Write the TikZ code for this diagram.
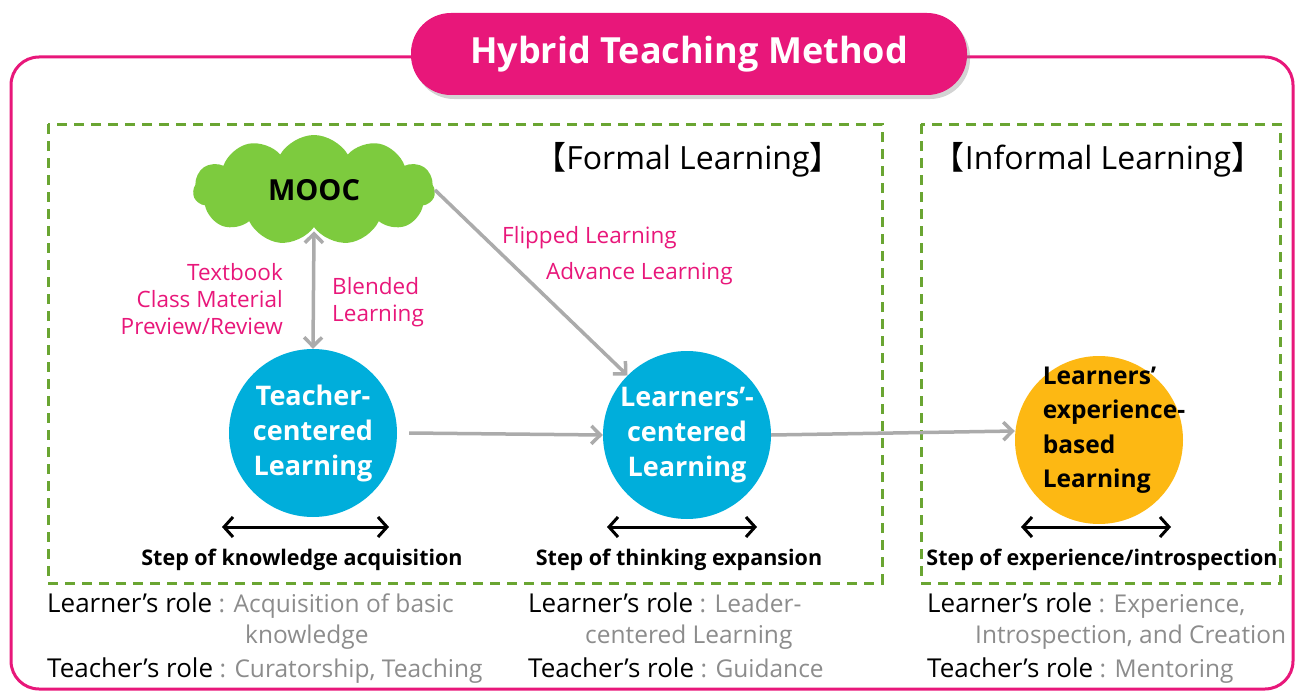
\documentclass[tikz,border=0pt]{standalone}
\usepackage{fontspec}
\setmainfont{Open Sans}
\newfontfamily\cjkfont{Noto Sans CJK KR}
\usetikzlibrary{shapes.symbols,arrows.meta,shadows}
\definecolor{hpink}{HTML}{E8177A}
\definecolor{hgreen}{HTML}{6AA532}
\definecolor{cloudgreen}{HTML}{7DCB3E}
\definecolor{hblue}{HTML}{00AEDB}
\definecolor{horange}{HTML}{FDB813}
\definecolor{hgray}{HTML}{ABABAB}
\definecolor{rolegray}{HTML}{8C8C8C}
\newcommand\rolegraytext[1]{{\color{rolegray}\fontsize{24.5}{30}\selectfont #1}}
\newcommand\lbrk{{\cjkfont 【}}
\newcommand\rbrk{{\cjkfont 】}}
\tikzset{
  dashbox/.style={draw=hgreen,line width=3pt,dash pattern=on 10pt off 7pt},
  circ/.style={circle,minimum size=168pt,inner sep=0pt,align=center,font=\fontsize{27}{35}\selectfont\bfseries},
  grayarrow/.style={draw=hgray,line width=3.5pt,-{Straight Barb[length=9pt,width=18pt]}},
  grayboth/.style={draw=hgray,line width=3.5pt,{Straight Barb[length=9pt,width=18pt]}-{Straight Barb[length=9pt,width=18pt]}},
  blackboth/.style={draw=black,line width=3pt,{Straight Barb[length=9pt,width=20pt]}-{Straight Barb[length=9pt,width=20pt]}},
  pinklabel/.style={text=hpink,font=\fontsize{22.5}{27}\selectfont,inner sep=0pt},
  steplabel/.style={font=\fontsize{21.5}{24}\selectfont\bfseries,inner sep=0pt},
  rolelabel/.style={anchor=base west,inner sep=0pt,font=\fontsize{26}{30}\selectfont},
  roletext/.style={text=rolegray,font=\fontsize{24.5}{30}\selectfont},
  sechead/.style={font=\fontsize{32}{36}\selectfont,inner sep=0pt}
}
\begin{document}
\begin{tikzpicture}[x=1pt,y=-1pt]
\useasboundingbox (0,0) rectangle (1299,693);
% outer frame
\draw[hpink,line width=3pt,rounded corners=28pt] (11,57) rectangle (1293,689);
% title
\node (title) [fill=hpink,rounded corners=40pt,minimum width=556pt,minimum height=82pt,
  drop shadow={shadow xshift=3pt,shadow yshift=-4pt,opacity=0.35},
  text=white,font=\fontsize{36}{40}\selectfont\bfseries] at (689,54) {Hybrid Teaching Method};
% dashed boxes
\draw[dashbox] (48,124) rectangle (882,583);
\draw[dashbox] (921,124) rectangle (1280,583);
\node (formal) [sechead] at (688,160) {\lbrk Formal Learning\rbrk};
\node (informal) [sechead] at (1098,160) {\lbrk Informal Learning\rbrk};
% cloud
\node (mooc) [cloud,cloud puffs=11,cloud puff arc=120,aspect=2.2,fill=cloudgreen,draw=none,
  minimum width=242pt,minimum height=110pt,font=\fontsize{29}{32}\selectfont\bfseries] at (314,190) {MOOC};
% circles
\node (tcl) [circ,fill=hblue,text=white] at (313,433) {Teacher-\\centered\\Learning};
\node (lcl) [circ,fill=hblue,text=white] at (687,435) {Learners'-\\centered\\Learning};
\node (ebl) [circ,fill=horange] at (1099,440) {};
\node (ebltext) [align=left,inner sep=0pt,font=\fontsize{24.5}{34.5}\selectfont\bfseries] at (1114,430) {Learners'\\experience-\\based\\Learning};
% gray arrows
\draw[grayboth] (mooc.south) ++(0,4) coordinate (ms) (ms) -- (tcl.north);
\draw[grayarrow] (mooc.east) -- (lcl.north west);
\draw[grayarrow] (tcl.east) ++(12,0) coordinate (te) (te) -- (lcl.west);
\draw[grayarrow] (lcl.east) -- ([yshift=9pt]ebl.west);
% pink labels
\node (tb) [pinklabel,anchor=east,align=right] at (283,299) {Textbook\\Class Material\\Preview/Review};
\node (bl) [pinklabel,anchor=west,align=left] at (332,302) {Blended\\Learning};
\node (fl) [pinklabel,anchor=west] at (502,238) {Flipped Learning};
\node (al) [pinklabel,anchor=west] at (546,274) {Advance Learning};
% black double arrows
\coordinate (a1l) at (222,527); \coordinate (a1r) at (389,527);
\coordinate (a2l) at (607,527); \coordinate (a2r) at (757,527);
\coordinate (a3l) at (1021,527); \coordinate (a3r) at (1171,527);
\draw[blackboth] (a1l) -- (a1r);
\draw[blackboth] (a2l) -- (a2r);
\draw[blackboth] (a3l) -- (a3r);
\node (s1) [steplabel] at (302,560) {Step of knowledge acquisition};
\node (s2) [steplabel] at (679,560) {Step of thinking expansion};
\node (s3) [steplabel] at (1102,560) {Step of experience/introspection};
% roles
\node (r1a) [rolelabel] at (47,612) {Learner’s role\rolegraytext{ : Acquisition of basic}};
\node (r1b) [rolelabel,roletext] at (245,643) {knowledge};
\node (r1c) [rolelabel] at (47,677) {Teacher’s role\rolegraytext{ : Curatorship, Teaching}};
\node (r2a) [rolelabel] at (528,612) {Learner’s role\rolegraytext{ : Leader-}};
\node (r2b) [rolelabel,roletext] at (585,643) {centered Learning};
\node (r2c) [rolelabel] at (528,677) {Teacher’s role\rolegraytext{ : Guidance}};
\node (r3a) [rolelabel] at (927,612) {Learner’s role\rolegraytext{ : Experience,}};
\node (r3b) [rolelabel,roletext] at (975,643) {Introspection, and Creation};
\node (r3c) [rolelabel] at (927,677) {Teacher’s role\rolegraytext{ : Mentoring}};
\end{tikzpicture}
\end{document}
